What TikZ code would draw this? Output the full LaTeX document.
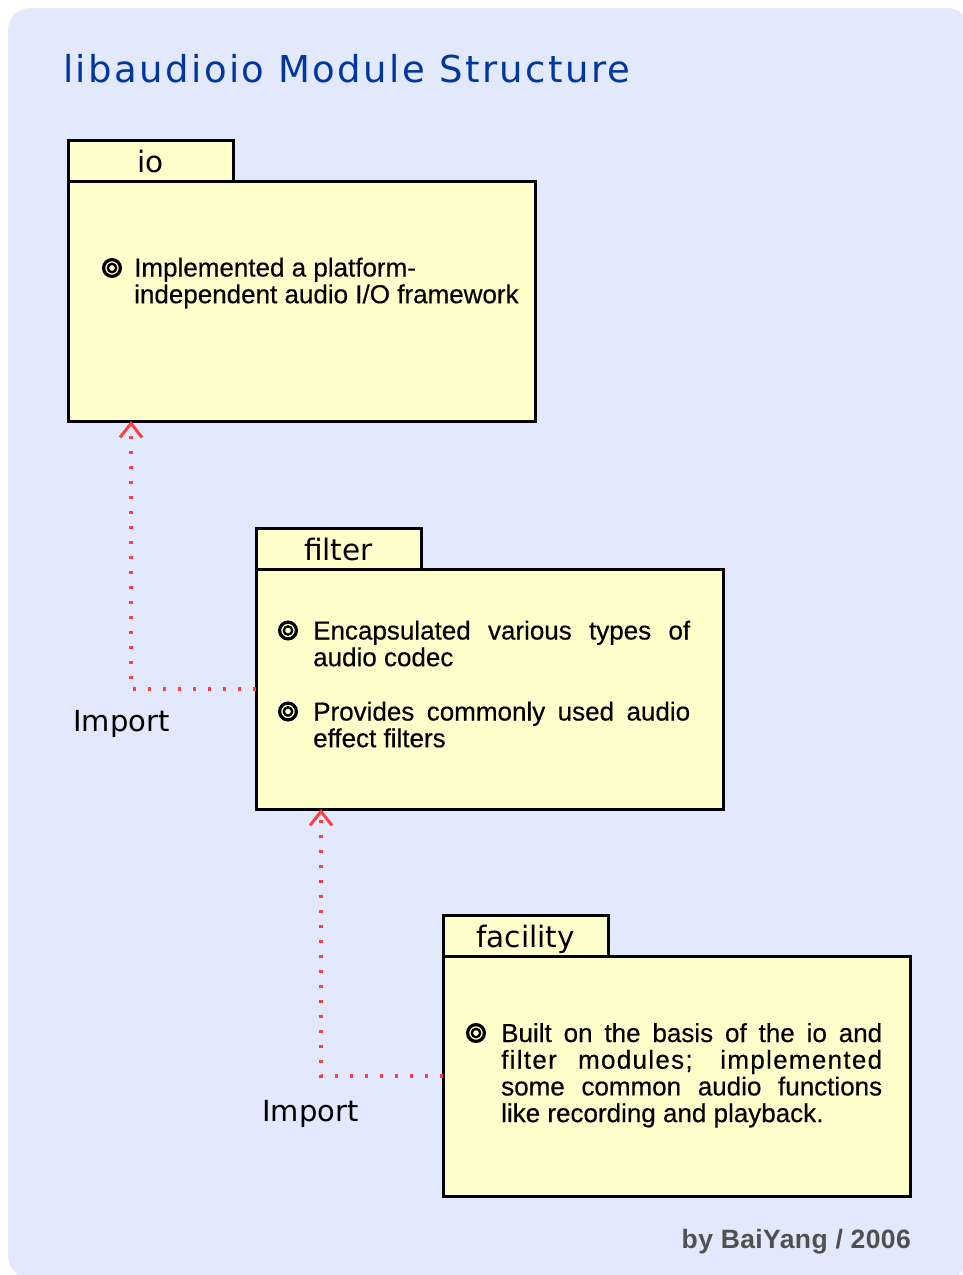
\documentclass[tikz,border=0pt]{standalone}
\usepackage{fontspec}
\setmainfont{Liberation Sans}
\newfontfamily\bodysans[FakeBold=0.4]{Liberation Sans}
\newfontfamily\widesans[LetterSpace=5,FakeBold=0.4]{Liberation Sans}
\newfontfamily\dejavu{DejaVu Sans}
\newfontfamily\dejavuspaced[LetterSpace=6.5]{DejaVu Sans}
\newfontfamily\creditfont[LetterSpace=1.5]{Liberation Sans}
\usetikzlibrary{arrows.meta}

\definecolor{pagebg}{RGB}{227,233,253}
\definecolor{pkgfill}{RGB}{255,255,204}
\definecolor{titleblue}{RGB}{0,54,160}
\definecolor{importred}{RGB}{255,64,64}
\definecolor{footgray}{RGB}{80,80,80}

\tikzset{
  pkgbody/.style={draw=black, fill=pkgfill, line width=3pt, anchor=north west,
    inner sep=0pt, outer sep=0pt, minimum width=467pt, minimum height=240pt},
  pkgtab/.style={draw=black, fill=pkgfill, line width=3pt, anchor=south west,
    inner sep=0pt, outer sep=0pt, minimum width=165pt, minimum height=41pt,
    text height=24pt, text depth=0pt,
    font=\dejavu\fontsize{29.5}{30}\selectfont},
  bultext/.style={anchor=base west, inner sep=0pt,
    font=\bodysans\fontsize{26}{26.7}\selectfont},
  bul/.style={circle, draw=black, line width=3.2pt, minimum size=16.8pt, inner sep=0pt,
    path picture={\draw[line width=2.3pt] (path picture bounding box.center) circle (4.2pt);}},
  importline/.style={draw=importred, line width=3.5pt,
    dash pattern=on 3.5pt off 11.5pt,
    -{Straight Barb[length=14pt,width=22pt,line width=3pt]}},
  importlbl/.style={anchor=base west, inner sep=0pt,
    font=\dejavu\fontsize{29}{30}\selectfont},
}

\begin{document}
\begin{tikzpicture}[x=1pt,y=-1pt]
\useasboundingbox (0,0) rectangle (963,1275);
\fill[pagebg, rounded corners=22pt] (8,8) rectangle (969,1278);

% title
\node[anchor=base west, inner sep=0pt, text=titleblue,
      font=\dejavuspaced\fontsize{37}{40}\selectfont] (title) at (63,82)
  {libaudioio Module Structure};

% package io
\node[pkgbody] (io) at (68,181) {};
\node[pkgtab] (iotab) at (io.north west) {io};
\node[bul] (iob1) at (112,268) {};
\node[bultext] (iotext) at (134,276.5)
  {\parbox[t]{420pt}{Implemented a platform-\\independent audio I/O framework}};

% package filter
\node[pkgbody] (filter) at (256,569) {};
\node[pkgtab] (filtertab) at (filter.north west) {filter};
\node[bul] (filterb1) at (288,630.5) {};
\node[bultext] (filtertext1) at (313,639.5)
  {\parbox[t]{377pt}{\makebox[377pt][s]{Encapsulated various types of}\\audio codec}};
\node[bul] (filterb2) at (288,711.5) {};
\node[bultext] (filtertext2) at (313,720.5)
  {\parbox[t]{377pt}{\makebox[377pt][s]{Provides commonly used audio}\\effect filters}};

% package facility
\node[pkgbody] (facility) at (443,956) {};
\node[pkgtab] (facilitytab) at (facility.north west) {facility};
\node[bul] (facilityb1) at (476,1033) {};
\node[bultext] (facilitytext) at (501,1042)
  {\parbox[t]{381pt}{\makebox[381pt][s]{Built on the basis of the io and}\\
   \makebox[381pt][s]{\widesans filter modules; implemented}\\
   \makebox[381pt][s]{some common audio functions}\\
   like recording and playback.}};

% import dependencies
\draw[importline] (filter.west) -| ([xshift=63pt]io.south west);
\node[importlbl] (import1) at (73,731.5) {Import};
\draw[importline] (facility.west) -| ([xshift=65pt]filter.south west);
\node[importlbl] (import2) at (262,1121.5) {Import};

% credit
\node[anchor=base east, inner sep=0pt, text=footgray,
      font=\creditfont\bfseries\fontsize{26.5}{28}\selectfont] (credit) at (911,1248)
  {by BaiYang / 2006};
\end{tikzpicture}
\end{document}
